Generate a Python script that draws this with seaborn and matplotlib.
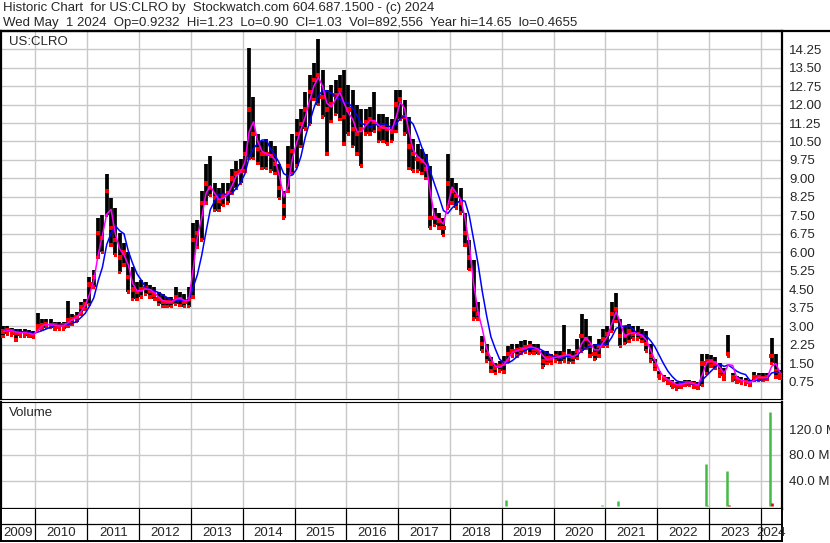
import numpy as np
import pandas as pd
import matplotlib
matplotlib.use("Agg")
import matplotlib.pyplot as plt
from matplotlib.lines import Line2D
import seaborn as sns

# ---------------- data ----------------
ticker = "US:CLRO"
header1 = "Historic Chart  for US:CLRO by  Stockwatch.com 604.687.1500 - (c) 2024"
header2 = ("Wed May  1 2024  Op=0.9232  Hi=1.23  Lo=0.90  Cl=1.03  Vol=892,556  "
           "Year hi=14.65  lo=0.4655")

first_month = "2009-05-01"   # monthly bars from May 2009 to May 2024

highs = [
    3.0, 3.0, 2.95, 2.9, 2.9, 2.9, 2.85, 2.8,                              # 2009
    3.55, 3.3, 3.3, 3.3, 3.2, 3.2, 3.2, 4.05, 3.5, 3.6, 4.0, 4.1,           # 2010
    5.0, 5.3, 7.4, 7.5, 9.2, 8.2, 7.8, 6.8, 6.4, 6.0, 5.4, 4.8,             # 2011
    4.9, 4.8, 4.7, 4.6, 4.4, 4.3, 4.2, 4.2, 4.6, 4.4, 4.3, 4.6,             # 2012
    7.2, 7.3, 8.5, 9.6, 9.9, 8.8, 8.6, 8.8, 8.8, 9.4, 9.7, 9.8,             # 2013
    10.5, 14.3, 12.3, 10.8, 10.5, 10.6, 10.5, 10.3, 9.6, 8.5, 10.3, 10.8,   # 2014
    11.4, 11.8, 12.5, 13.2, 13.7, 14.65, 13.4, 12.6, 12.8, 13.0, 13.2, 13.4,  # 2015
    12.8, 12.6, 12.0, 11.8, 11.8, 11.9, 12.5, 11.6, 11.6, 11.5, 11.4, 12.6,  # 2016
    12.6, 12.2, 11.5, 10.6, 10.4, 10.2, 10.0, 9.5, 7.8, 7.6, 7.4, 10.0,     # 2017
    9.0, 8.8, 8.6, 7.6, 6.5, 5.7, 4.0, 2.6, 2.3, 1.75, 1.5, 1.6,            # 2018
    1.8, 2.2, 2.3, 2.3, 2.4, 2.45, 2.4, 2.3, 2.3, 2.0, 2.0, 1.9,            # 2019
    2.0, 2.0, 3.05, 2.1, 2.0, 2.5, 3.5, 3.3, 2.6, 2.3, 2.5, 2.9,            # 2020
    3.0, 4.0, 4.35, 3.3, 3.0, 3.1, 3.0, 3.0, 2.9, 2.8, 2.3, 1.7,            # 2021
    1.2, 1.05, 0.95, 0.85, 0.75, 0.8, 0.85, 0.83, 0.8, 0.75, 1.9, 1.9,      # 2022
    1.85, 1.75, 1.5, 1.3, 2.65, 1.1, 1.0, 0.95, 0.9, 0.85, 1.15, 1.1,       # 2023
    1.1, 1.1, 2.55, 1.9, 1.23,                                             # 2024
]
lows = [
    2.6, 2.7, 2.65, 2.45, 2.6, 2.6, 2.6, 2.55,
    2.85, 2.9, 2.95, 2.95, 2.9, 2.9, 2.9, 3.0, 3.1, 3.2, 3.5, 3.7,
    3.9, 4.6, 5.8, 6.0, 7.5, 6.3, 5.9, 5.2, 5.5, 4.4, 4.1, 4.1,
    4.2, 4.3, 4.2, 4.1, 3.9, 3.8, 3.8, 3.8, 3.9, 3.85, 3.8, 3.8,
    4.2, 6.2, 6.5, 8.0, 8.3, 7.7, 7.7, 7.9, 8.0, 8.4, 8.6, 8.8,
    9.3, 9.8, 9.8, 9.6, 9.4, 9.4, 9.3, 9.2, 8.2, 7.4, 8.5, 9.2,
    9.5, 10.3, 11.0, 11.2, 12.2, 12.0, 11.5, 10.0, 11.3, 11.6, 11.4, 10.4,
    10.8, 10.3, 10.0, 9.5, 10.8, 10.8, 10.9, 10.5, 10.5, 10.4, 10.5, 10.9,
    11.4, 10.8, 9.4, 9.3, 9.3, 9.2, 9.0, 7.0, 7.1, 7.0, 6.7, 7.8,
    8.0, 7.8, 7.6, 6.3, 5.3, 3.3, 3.3, 2.0, 1.6, 1.2, 1.1, 1.2,
    1.15, 1.6, 1.8, 1.8, 1.9, 1.95, 1.9, 1.9, 1.9, 1.35, 1.5, 1.5,
    1.6, 1.55, 1.6, 1.55, 1.55, 1.7, 2.0, 2.1, 1.8, 1.65, 1.8, 2.2,
    2.2, 2.8, 3.2, 2.2, 2.3, 2.4, 2.5, 2.5, 2.4, 2.0, 1.6, 1.25,
    0.9, 0.8, 0.7, 0.55, 0.47, 0.55, 0.6, 0.6, 0.55, 0.5, 0.6, 1.1,
    1.4, 1.3, 1.0, 0.85, 1.8, 0.8, 0.75, 0.7, 0.65, 0.6, 0.8, 0.8,
    0.8, 0.85, 1.5, 0.95, 0.9,
]
closes = [
    2.8, 2.85, 2.8, 2.75, 2.75, 2.75, 2.7, 2.65,
    3.0, 3.05, 3.1, 3.05, 3.05, 3.0, 3.05, 3.25, 3.3, 3.4, 3.8, 3.9,
    4.7, 5.0, 6.8, 6.6, 8.5, 7.0, 6.5, 5.8, 6.0, 5.0, 4.5, 4.4,
    4.5, 4.55, 4.45, 4.3, 4.1, 4.0, 4.0, 4.0, 4.2, 4.1, 4.0, 4.1,
    6.5, 6.8, 8.0, 8.8, 8.6, 8.2, 8.1, 8.3, 8.4, 9.0, 9.2, 9.3,
    10.0, 11.8, 10.8, 10.2, 10.0, 10.0, 9.9, 9.6, 8.6, 7.9, 9.5, 10.1,
    10.8, 11.2, 11.8, 12.5, 13.0, 13.2, 12.3, 11.8, 12.0, 12.4, 12.6, 11.5,
    11.8, 11.0, 10.8, 11.0, 11.3, 11.4, 11.3, 11.0, 11.1, 11.0, 10.9, 12.0,
    12.2, 11.5, 10.3, 10.0, 9.8, 9.7, 9.4, 7.4, 7.4, 7.3, 7.0, 8.8,
    8.5, 8.3, 8.0, 6.8, 5.8, 3.7, 3.5, 2.3, 1.9, 1.5, 1.3, 1.4,
    1.5, 1.9, 2.0, 2.05, 2.1, 2.15, 2.2, 2.1, 2.05, 1.6, 1.7, 1.7,
    1.8, 1.75, 1.9, 1.8, 1.75, 2.0, 2.6, 2.5, 2.2, 1.9, 2.2, 2.5,
    2.7, 3.5, 3.7, 2.6, 2.6, 2.8, 2.7, 2.7, 2.6, 2.3, 1.8, 1.45,
    1.0, 0.9, 0.8, 0.7, 0.6, 0.7, 0.7, 0.72, 0.65, 0.6, 1.5, 1.6,
    1.6, 1.5, 1.2, 1.0, 1.9, 0.95, 0.85, 0.8, 0.75, 0.7, 0.95, 0.95,
    0.9, 0.95, 1.8, 1.2, 1.03,
]

# notable daily volume bars (millions of shares)
vol_dates = ["2018-11-06", "2019-01-30", "2020-09-20", "2020-12-09", "2021-04-01",
             "2021-10-27", "2022-01-30", "2022-12-09", "2022-12-20", "2023-05-12",
             "2023-05-23", "2024-03-07", "2024-03-18"]
vol_values = [1.5, 10.0, 1.5, 3.0, 8.0, 1.5, 1.0, 66.0, 3.0, 55.0, 2.0, 147.0, 6.0]
vol_up = [False, True, True, True, True, False, True, True, True, True, False, True, False]

price_ticks = [0.75, 1.50, 2.25, 3.00, 3.75, 4.50, 5.25, 6.00, 6.75, 7.50, 8.25,
               9.00, 9.75, 10.50, 11.25, 12.00, 12.75, 13.50, 14.25]
vol_ticks = [40, 80, 120]
years = list(range(2009, 2025))

# ---------------- derived ----------------
months = pd.date_range(first_month, periods=len(closes), freq="MS")
x_month = months.year + (months.month - 1 + 0.5) / 12.0
df = pd.DataFrame({"x": x_month, "high": highs, "low": lows, "close": closes})
df["ma_short"] = df["close"].rolling(2, min_periods=1).mean()
df["ma_long"] = df["close"].rolling(5, min_periods=1).mean()

vd = pd.to_datetime(vol_dates)
vol_x = vd.year + (vd.dayofyear - 1) / 365.25

X0, X1 = 2009.334, 2024.411

# ---------------- figure ----------------
sns.set_style("white")
plt.rcParams["font.family"] = ["Liberation Sans", "DejaVu Sans"]

W, H = 830, 543
def rect(x0, y0, x1, y1):
    return [x0 / W, 1 - y1 / H, (x1 - x0) / W, (y1 - y0) / H]

fig = plt.figure(figsize=(W / 100, H / 100), dpi=100)
fig.patch.set_facecolor("white")

axp = fig.add_axes(rect(1, 31, 782, 399))
axv = fig.add_axes(rect(1, 402, 782, 509))
axd = fig.add_axes(rect(1, 509, 782, 541))

grid_c = "#c8c8c8"
FS = 9.5

# ---- price panel ----
axp.set_xlim(X0, X1)
axp.set_ylim(0.06, 14.98)
for t in price_ticks:
    axp.axhline(t, color=grid_c, lw=1.0, zorder=0)
for y in years[1:]:
    axp.axvline(y, color=grid_c, lw=1.0, zorder=0)
axp.vlines(df["x"], df["low"], df["high"], color="black", lw=2.7, zorder=2)
sns.scatterplot(data=df, x="x", y="close", marker="s", s=9, color="#ff0000",
                edgecolor="none", ax=axp, zorder=3, legend=False)
sns.scatterplot(data=df, x="x", y="low", marker="s", s=6, color="#ff0000",
                edgecolor="none", ax=axp, zorder=3, legend=False)
sns.lineplot(data=df, x="x", y="ma_long", color="#0000ff", lw=1.1, ax=axp,
             zorder=4, legend=False)
sns.lineplot(data=df, x="x", y="ma_short", color="#ff00ff", lw=1.1, ax=axp,
             zorder=5, legend=False)
axp.set_xlabel("")
axp.set_ylabel("")
axp.set_xticks([])
axp.yaxis.tick_right()
axp.set_yticks(price_ticks)
axp.set_yticklabels([f"{t:.2f}" for t in price_ticks], fontsize=FS)
axp.tick_params(axis="y", length=0, pad=5)
for s in ["left", "top", "right"]:
    axp.spines[s].set_linewidth(1.6)
    axp.spines[s].set_color("black")
axp.spines["bottom"].set_linewidth(0.8)
axp.spines["bottom"].set_color("black")
axp.text(8 / 781, 1 - 11 / 368, ticker, transform=axp.transAxes, fontsize=FS,
         ha="left", va="center")

# ---- volume panel ----
axv.set_xlim(X0, X1)
axv.set_ylim(-3.9, 162)
for t in vol_ticks:
    axv.axhline(t, color=grid_c, lw=1.0, zorder=0)
for y in years[1:]:
    axv.axvline(y, color=grid_c, lw=1.0, zorder=0)
axv.vlines(vol_x, 0, vol_values,
           colors=["#44bb44" if u else "#e00000" for u in vol_up], lw=1.8, zorder=2)
axv.set_xticks([])
axv.yaxis.tick_right()
axv.set_yticks(vol_ticks)
axv.set_yticklabels([f"{t:.1f} M" for t in vol_ticks], fontsize=FS)
axv.tick_params(axis="y", length=0, pad=5)
for s in ["left", "right", "bottom"]:
    axv.spines[s].set_linewidth(1.6)
    axv.spines[s].set_color("black")
axv.spines["top"].set_linewidth(0.8)
axv.spines["top"].set_color("black")
axv.text(8 / 781, 1 - 11 / 107, "Volume", transform=axv.transAxes, fontsize=FS,
         ha="left", va="center")

# ---- date label strip ----
axd.set_xlim(X0, X1)
axd.set_ylim(0, 1)
axd.set_xticks([])
axd.set_yticks([])
axd.axhline(17 / 32, color="black", lw=0.9)
for y in years[1:]:
    axd.axvline(y, color="black", lw=0.9)
for y in years:
    c = (max(y, X0) + min(y + 1, X1)) / 2
    axd.text(c, 8.5 / 32, str(y), ha="center", va="center", fontsize=FS)
for s in ["left", "right", "bottom"]:
    axd.spines[s].set_linewidth(1.4)
    axd.spines[s].set_color("black")
axd.spines["top"].set_visible(False)

# ---- header ----
fig.text(3 / W, 1 - 8 / H, header1, ha="left", va="center", fontsize=FS)
fig.text(3 / W, 1 - 23 / H, header2, ha="left", va="center", fontsize=FS)
fig.add_artist(Line2D([0, 1], [1 - 30.5 / H, 1 - 30.5 / H], color="black", lw=1.6))

fig.savefig("out.png", dpi=100)
